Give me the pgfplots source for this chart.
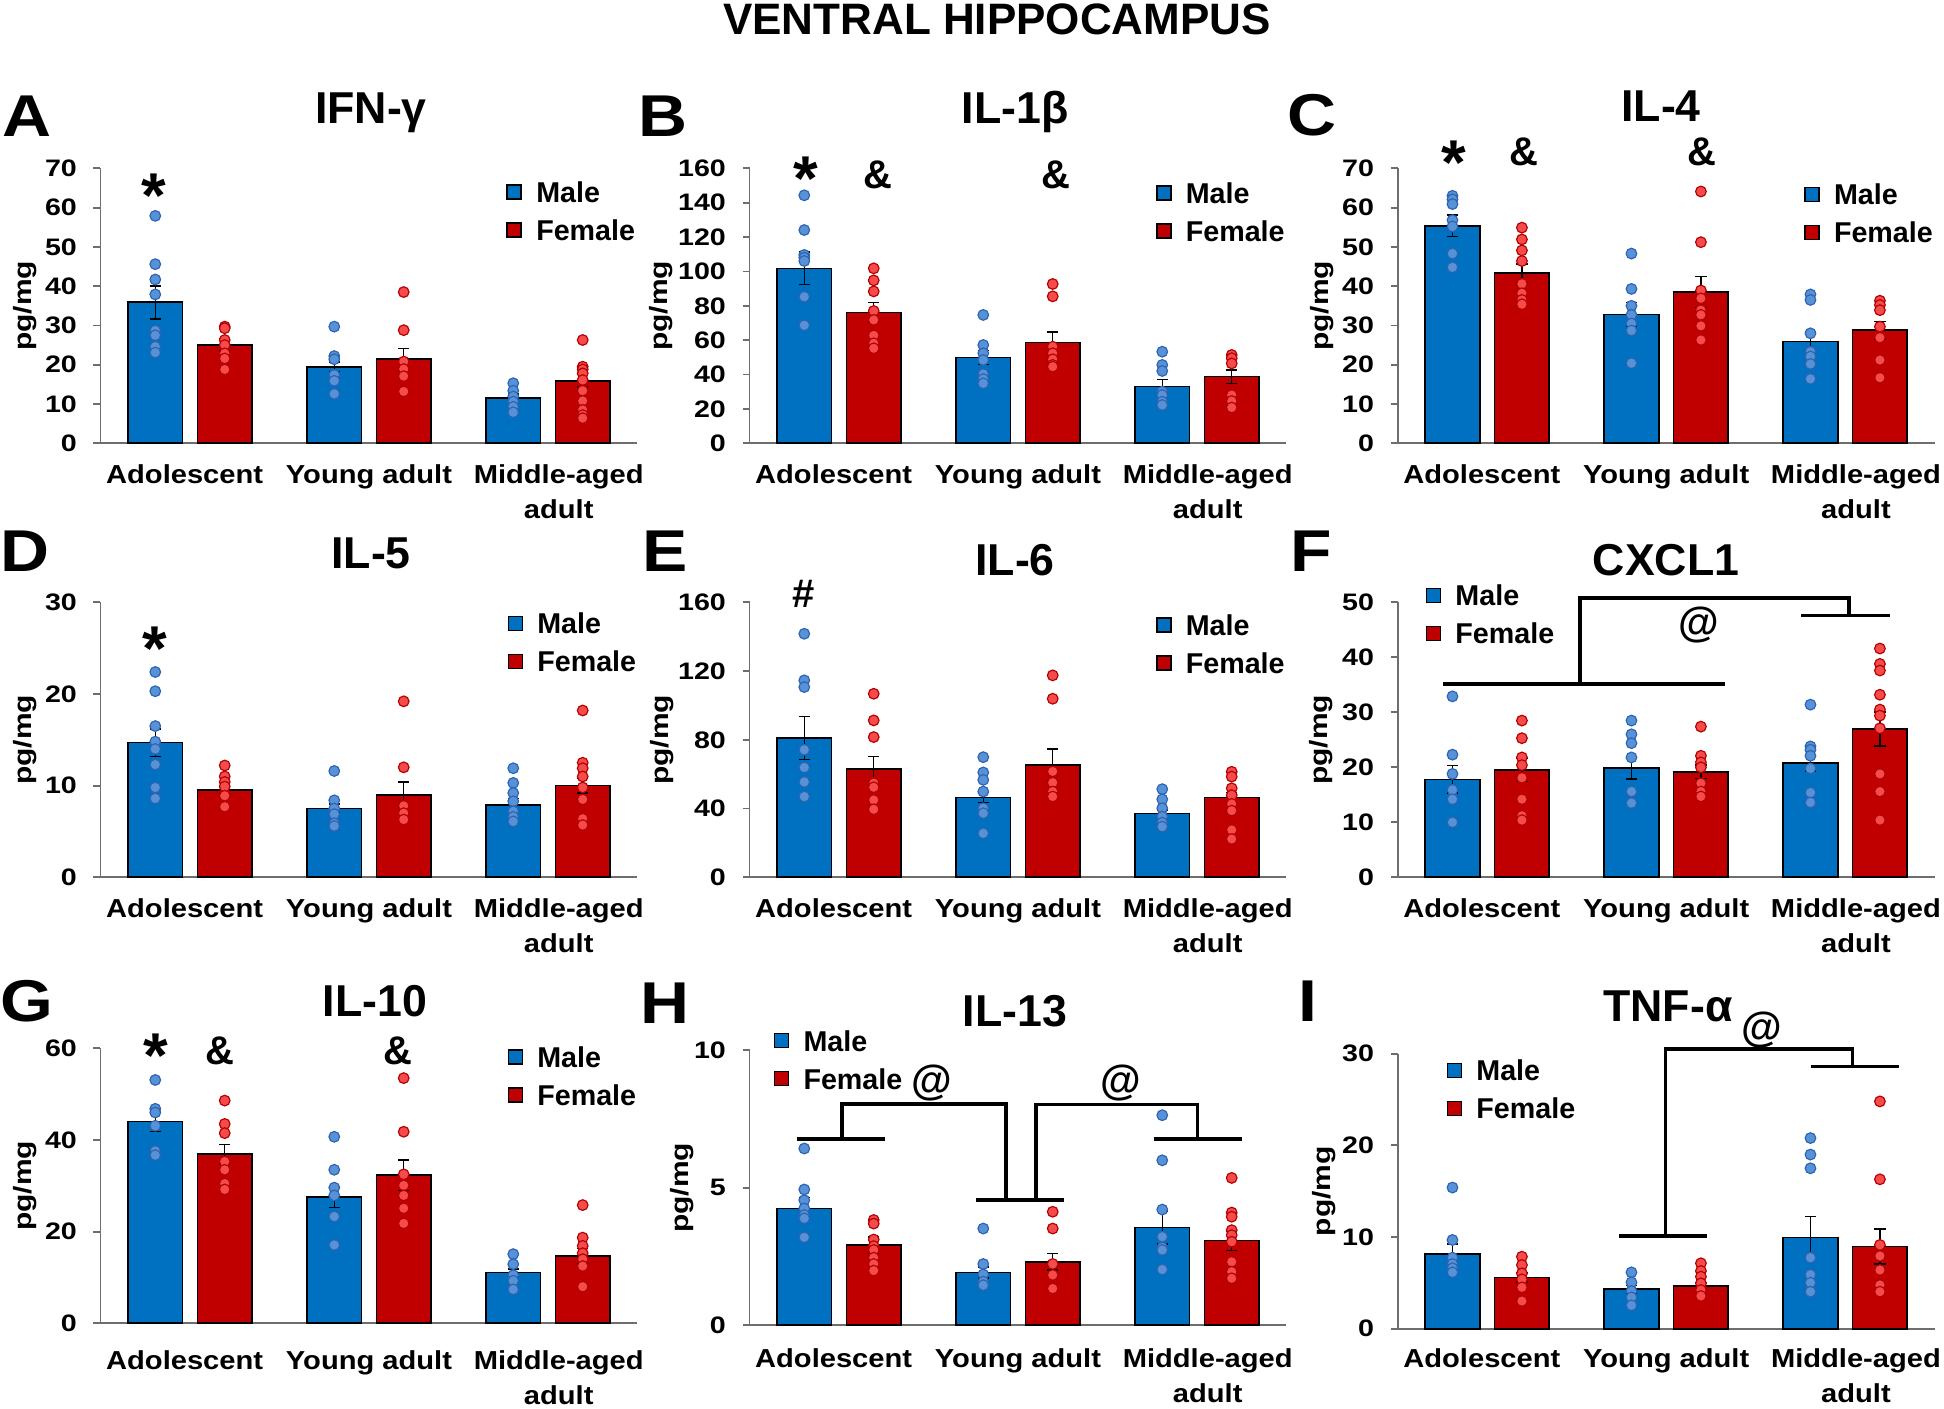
\documentclass[border=0pt]{standalone}
\usepackage{fontspec}
\setmainfont{Liberation Sans}
\newfontfamily\wfont[FakeStretch=1.2]{Liberation Sans}
\newfontfamily\cfont[FakeStretch=1.12]{Liberation Sans}
\newfontfamily\lfont[FakeStretch=1.15]{Liberation Sans}
\usepackage{pgfplots}
\pgfplotsset{compat=1.18}
\definecolor{barblue}{RGB}{0,112,192}
\definecolor{barred}{RGB}{192,0,0}
\definecolor{dotblue}{RGB}{88,146,214}
\definecolor{dotblueedge}{RGB}{45,100,178}
\definecolor{dotred}{RGB}{245,75,75}
\definecolor{dotrededge}{RGB}{180,0,0}
\definecolor{axgray}{RGB}{110,110,110}
\tikzset{
  star/.style={font=\fontsize{19}{19}\selectfont\bfseries, inner sep=0pt, anchor=north},
  sym/.style={font=\fontsize{12}{12}\selectfont\bfseries, inner sep=0pt, anchor=base},
  atsym/.style={font=\fontsize{12.5}{12.5}\selectfont\bfseries, inner sep=0pt, anchor=center},
  brk/.style={line width=1.1pt, black, line join=miter},
  plet/.style={font=\lfont\fontsize{17.7}{18}\selectfont\bfseries, inner sep=0pt, anchor=base west},
  ptit/.style={font=\fontsize{13.4}{14}\selectfont\bfseries, inner sep=0pt, anchor=base},
}
\pgfplotsset{
  panel/.style={
    scale only axis, width=161.1pt, height=82.5pt, anchor=south west,
    xmin=-0.5, xmax=2.5, ymin=0, clip=false,
    axis lines*=left, axis line style={draw=axgray, line width=0.55pt, -},
    xtick={-0.03,1,2.06}, xticklabels={Adolescent,Young adult,{Middle-aged\\adult}},
    x tick style={draw=none},
    y tick style={draw=axgray, line width=0.55pt},
    tick align=outside, major tick length=2.1pt,
    xticklabel style={font=\cfont\fontsize{7.8}{10.5}\selectfont\bfseries, align=center, anchor=north, inner sep=0pt, yshift=-4.2pt},
    yticklabel style={font=\wfont\fontsize{7.15}{8}\selectfont\bfseries, anchor=east, inner sep=0pt, xshift=-4.8pt},
    /pgf/number format/assume math mode=true,
    ylabel={pg/mg},
    every axis y label/.style={at={(axis description cs:-0.14,0.5)}, rotate=90, anchor=center, font=\wfont\fontsize{7.5}{9}\selectfont\bfseries},
    legend style={draw=none, fill=none, inner sep=0pt, outer sep=0pt, anchor=west,
      font=\fontsize{8.6}{9}\selectfont\bfseries, row sep=4.2pt, column sep=3.8pt,
      nodes={inner sep=0.5pt, text height=6.2pt, text depth=0pt}, cells={anchor=west}},
  },
  barM/.style={ybar, bar width=0.305, bar shift=0pt, fill=barblue, draw=black, line width=0.5pt,
    error bars/.cd, y dir=both, y explicit,
    error bar style={black, line width=0.45pt},
    error mark options={rotate=90, mark size=1.7pt, black, line width=0.45pt},
    /pgfplots/.cd,
    legend image code/.code={\draw[##1, draw=black, line width=0.45pt] (0pt,-2.1pt) rectangle (4.2pt,2.1pt);}},
  barF/.style={barM, fill=barred},
  dotM/.style={only marks, mark=*, mark size=1.6pt, mark options={fill=dotblue, draw=dotblueedge, line width=0.35pt, solid}, forget plot},
  dotF/.style={only marks, mark=*, mark size=1.6pt, mark options={fill=dotred, draw=dotrededge, line width=0.35pt, solid}, forget plot},
}
\begin{document}
\begin{tikzpicture}
\begin{scope}[x=0.3pt,y=-0.3pt]
\coordinate (A0) at (100.5,443.3);
\coordinate (B0) at (749.5,443.3);
\coordinate (C0) at (1397.7,443.3);
\coordinate (D0) at (100.5,877.3);
\coordinate (E0) at (749.5,877.3);
\coordinate (F0) at (1397.7,877.3);
\coordinate (G0) at (100.5,1323.3);
\coordinate (H0) at (749.5,1325.3);
\coordinate (I0) at (1397.7,1328.7);
\end{scope}

% ---------------- A: IFN-gamma
\begin{axis}[panel, at={(A0)}, ymax=70, ytick={0,10,...,70},
  legend style={at={(axis description cs:0.756,0.845)}}]
\addplot[barM] coordinates {(-0.194,35.9) +- (0,4.2) (0.806,19.5) +- (0,1.2) (1.806,11.5) +- (0,1.0)};
\addlegendentry{Male}
\addplot[barF] coordinates {(0.194,25.0) +- (0,1.5) (1.194,21.4) +- (0,2.7) (2.194,15.9) +- (0,1.6)};
\addlegendentry{Female}
\addplot[dotM] coordinates {(-0.194,57.9) (-0.194,45.6) (-0.194,41.7) (-0.194,37.9) (-0.194,28.7) (-0.194,27.5) (-0.194,24.6) (-0.194,23.1)
 (0.806,29.7) (0.806,22.2) (0.806,21.4) (0.806,17.4) (0.806,15.9) (0.806,12.6)
 (1.806,15.3) (1.806,13.4) (1.806,11.9) (1.806,10.6) (1.806,9.3) (1.806,7.9)};
\addplot[dotF] coordinates {(0.194,29.7) (0.194,29.3) (0.194,26.3) (0.194,25.0) (0.194,22.9) (0.194,21.6) (0.194,18.8)
 (1.194,38.5) (1.194,28.8) (1.194,20.8) (1.194,18.9) (1.194,17.1) (1.194,13.2)
 (2.194,26.3) (2.194,19.5) (2.194,18.8) (2.194,17.8) (2.194,16.1) (2.194,13.4) (2.194,10.8) (2.194,8.5) (2.194,7.2) (2.194,6.4)};
\node[star] at (axis cs:-0.2,68.7) {*};
\end{axis}

% ---------------- B: IL-1beta
\begin{axis}[panel, at={(B0)}, ymax=160, ytick={0,20,...,160},
  ylabel style={at={(axis description cs:-0.164,0.5)}},
  legend style={at={(axis description cs:0.757,0.842)}}]
\addplot[barM] coordinates {(-0.194,101.8) +- (0,9.5) (0.806,50.0) +- (0,4.0) (1.806,33.0) +- (0,4.2)};
\addlegendentry{Male}
\addplot[barF] coordinates {(0.194,76.2) +- (0,5.6) (1.194,58.6) +- (0,6.2) (2.194,38.8) +- (0,4.0)};
\addlegendentry{Female}
\addplot[dotM] coordinates {(-0.194,144.3) (-0.194,124.1) (-0.194,109.6) (-0.194,108) (-0.194,106.1) (-0.194,85.3) (-0.194,68.7)
 (0.806,74.7) (0.806,57.2) (0.806,52.4) (0.806,48.5) (0.806,40.3) (0.806,37.4) (0.806,34.9)
 (1.806,53.3) (1.806,45.6) (1.806,42.1) (1.806,30.1) (1.806,28.1) (1.806,24.2) (1.806,22.3)};
\addplot[dotF] coordinates {(0.194,101.8) (0.194,94.8) (0.194,88.4) (0.194,77) (0.194,71.8) (0.194,62.8) (0.194,58.2) (0.194,55.3)
 (1.194,92.7) (1.194,85.5) (1.194,56.2) (1.194,52.4) (1.194,48.9) (1.194,45.6) (1.194,44.6)
 (2.194,51.4) (2.194,49.5) (2.194,46.5) (2.194,28.1) (2.194,24.6) (2.194,20.8)};
\node[star] at (axis cs:-0.188,166.8) {*};
\node[sym] at (axis cs:0.218,148.4) {\&};
\node[sym] at (axis cs:1.212,148.4) {\&};
\end{axis}

% ---------------- C: IL-4
\begin{axis}[panel, at={(C0)}, ymax=70, ytick={0,10,...,70},
  ylabel style={at={(axis description cs:-0.14,0.5)}},
  legend style={at={(axis description cs:0.757,0.836)}}]
\addplot[barM] coordinates {(-0.194,55.4) +- (0,2.7) (0.806,32.8) +- (0,3.0) (1.806,25.9) +- (0,2.5)};
\addlegendentry{Male}
\addplot[barF] coordinates {(0.194,43.3) +- (0,2.4) (1.194,38.5) +- (0,3.9) (2.194,28.8) +- (0,2.2)};
\addlegendentry{Female}
\addplot[dotM] coordinates {(-0.194,63.0) (-0.194,62.1) (-0.194,60.9) (-0.194,56.8) (-0.194,55.2) (-0.194,48.3) (-0.194,44.8)
 (0.806,48.3) (0.806,39.3) (0.806,35.0) (0.806,32.7) (0.806,30.5) (0.806,28.7) (0.806,20.4)
 (1.806,37.9) (1.806,36.5) (1.806,28.0) (1.806,23.3) (1.806,22.1) (1.806,20.2) (1.806,16.4)};
\addplot[dotF] coordinates {(0.194,54.9) (0.194,51.9) (0.194,49.1) (0.194,46.4) (0.194,40.6) (0.194,38.2) (0.194,36.5) (0.194,35.4)
 (1.194,64.1) (1.194,51.2) (1.194,38.9) (1.194,36.9) (1.194,33.9) (1.194,32.7) (1.194,29.9) (1.194,26.3)
 (2.194,36.3) (2.194,35.2) (2.194,33.9) (2.194,29.7) (2.194,26.9) (2.194,21.2) (2.194,16.7)};
\node[star] at (axis cs:-0.187,77.2) {*};
\node[sym] at (axis cs:0.208,70.6) {\&};
\node[sym] at (axis cs:1.201,70.6) {\&};
\end{axis}

% ---------------- D: IL-5
\begin{axis}[panel, at={(D0)}, ymax=30, ytick={0,10,20,30},
  legend style={at={(axis description cs:0.758,0.854)}}]
\addplot[barM] coordinates {(-0.194,14.7) +- (0,1.5) (0.806,7.5) +- (0,0.5) (1.806,7.9) +- (0,0.7)};
\addlegendentry{Male}
\addplot[barF] coordinates {(0.194,9.5) +- (0,0.5) (1.194,9.0) +- (0,1.4) (2.194,10.0) +- (0,0.8)};
\addlegendentry{Female}
\addplot[dotM] coordinates {(-0.194,22.4) (-0.194,20.3) (-0.194,16.5) (-0.194,14.8) (-0.194,14.0) (-0.194,12.3) (-0.194,9.8) (-0.194,8.6)
 (0.806,11.6) (0.806,8.4) (0.806,7.5) (0.806,6.9) (0.806,5.9) (0.806,5.6)
 (1.806,11.9) (1.806,10.3) (1.806,9.2) (1.806,8.3) (1.806,7.2) (1.806,6.6) (1.806,6.1)};
\addplot[dotF] coordinates {(0.194,12.2) (0.194,11.0) (0.194,10.4) (0.194,9.9) (0.194,8.9) (0.194,7.7)
 (1.194,19.2) (1.194,12.0) (1.194,7.8) (1.194,7.0) (1.194,6.3)
 (2.194,18.2) (2.194,12.5) (2.194,11.9) (2.194,11.0) (2.194,9.8) (2.194,8.5) (2.194,6.4) (2.194,5.7)};
\node[star] at (axis cs:-0.199,27.4) {*};
\end{axis}

% ---------------- E: IL-6
\begin{axis}[panel, at={(E0)}, ymax=160, ytick={0,40,...,160},
  ylabel style={at={(axis description cs:-0.162,0.5)}},
  legend style={at={(axis description cs:0.757,0.848)}}]
\addplot[barM] coordinates {(-0.194,81.0) +- (0,12.5) (0.806,46.4) +- (0,3.0) (1.806,37.1) +- (0,2.0)};
\addlegendentry{Male}
\addplot[barF] coordinates {(0.194,62.9) +- (0,7.4) (1.194,65.4) +- (0,9.2) (2.194,46.4) +- (0,3.0)};
\addlegendentry{Female}
\addplot[dotM] coordinates {(-0.194,141.7) (-0.194,114.6) (-0.194,110.7) (-0.194,74.2) (-0.194,63.9) (-0.194,55.5) (-0.194,47.0)
 (0.806,69.9) (0.806,61.0) (0.806,56.7) (0.806,49.9) (0.806,40.2) (0.806,37.3) (0.806,25.6)
 (1.806,51.3) (1.806,45.4) (1.806,40.2) (1.806,35.3) (1.806,31.8) (1.806,29.5)};
\addplot[dotF] coordinates {(0.194,106.8) (0.194,91.3) (0.194,81.6) (0.194,54.8) (0.194,52.4) (0.194,45.0) (0.194,39.6)
 (1.194,117.5) (1.194,103.9) (1.194,61.6) (1.194,55.1) (1.194,49.9) (1.194,47.0)
 (2.194,61.4) (2.194,58.6) (2.194,51.8) (2.194,47.8) (2.194,42.7) (2.194,38.8) (2.194,27.6) (2.194,22.3)};
\node[sym] at (axis cs:-0.2,156.7) {\#};
\end{axis}

% ---------------- F: CXCL1
\begin{axis}[panel, at={(F0)}, ymax=50, ytick={0,10,...,50},
  ylabel style={at={(axis description cs:-0.142,0.5)}},
  legend style={at={(axis description cs:0.052,0.956)}}]
\addplot[barM] coordinates {(-0.194,17.8) +- (0,2.5) (0.806,19.9) +- (0,2.0) (1.806,20.8) +- (0,1.5)};
\addlegendentry{Male}
\addplot[barF] coordinates {(0.194,19.5) +- (0,2.1) (1.194,19.2) +- (0,1.2) (2.194,27.0) +- (0,3.1)};
\addlegendentry{Female}
\addplot[dotM] coordinates {(-0.194,32.9) (-0.194,22.3) (-0.194,18.8) (-0.194,15.9) (-0.194,14.2) (-0.194,10.0)
 (0.806,28.5) (0.806,26.0) (0.806,24.4) (0.806,21.8) (0.806,15.6) (0.806,13.5)
 (1.806,31.4) (1.806,23.8) (1.806,23.2) (1.806,22.1) (1.806,19.8) (1.806,15.4) (1.806,13.6)};
\addplot[dotF] coordinates {(0.194,28.5) (0.194,25.3) (0.194,21.8) (0.194,20.4) (0.194,18.1) (0.194,14.2) (0.194,11.2) (0.194,10.4)
 (1.194,27.4) (1.194,22.1) (1.194,20.9) (1.194,20.0) (1.194,17.1) (1.194,15.6) (1.194,14.7)
 (2.194,41.6) (2.194,38.8) (2.194,37.6) (2.194,33.2) (2.194,30.5) (2.194,29.4) (2.194,27.1) (2.194,18.8) (2.194,15.6) (2.194,10.4)};
\draw[brk] (axis cs:-0.245,35.2) -- (axis cs:1.33,35.2);
\draw[brk] (axis cs:0.518,35.2) -- (axis cs:0.518,50.8) -- (axis cs:2.023,50.8) -- (axis cs:2.023,47.6);
\draw[brk] (axis cs:1.754,47.6) -- (axis cs:2.249,47.6);
\node[atsym] at (axis cs:1.183,45.9) {@};
\end{axis}

% ---------------- G: IL-10
\begin{axis}[panel, at={(G0)}, ymax=60, ytick={0,20,40,60},
  xticklabel style={yshift=-1.8pt},
  ylabel style={at={(axis description cs:-0.14,0.5)}},
  legend style={at={(axis description cs:0.758,0.899)}}]
\addplot[barM] coordinates {(-0.194,44.0) +- (0,2.2) (0.806,27.6) +- (0,2.3) (1.806,11.1) +- (0,0.8)};
\addlegendentry{Male}
\addplot[barF] coordinates {(0.194,36.9) +- (0,2.1) (1.194,32.3) +- (0,3.3) (2.194,14.7) +- (0,1.6)};
\addlegendentry{Female}
\addplot[dotM] coordinates {(-0.194,53.1) (-0.194,46.8) (-0.194,46.0) (-0.194,43.1) (-0.194,37.6) (-0.194,36.7)
 (0.806,40.7) (0.806,33.5) (0.806,29.6) (0.806,27.9) (0.806,23.3) (0.806,17.1)
 (1.806,15.1) (1.806,12.9) (1.806,10.5) (1.806,9.3) (1.806,7.4)};
\addplot[dotF] coordinates {(0.194,48.6) (0.194,43.5) (0.194,41.5) (0.194,35.3) (0.194,33.5) (0.194,30.5) (0.194,29.2)
 (1.194,53.5) (1.194,41.8) (1.194,32.5) (1.194,30.1) (1.194,27.9) (1.194,25.1) (1.194,21.8)
 (2.194,25.8) (2.194,18.7) (2.194,16.9) (2.194,15.3) (2.194,14.0) (2.194,12.5) (2.194,8.0)};
\node[star] at (axis cs:-0.191,63.3) {*};
\node[sym] at (axis cs:0.17,56.4) {\&};
\node[sym] at (axis cs:1.16,56.4) {\&};
\end{axis}

% ---------------- H: IL-13
\begin{axis}[panel, at={(H0)}, ymax=10, ytick={0,5,10},
  xticklabel style={yshift=-0.4pt},
  ylabel style={at={(axis description cs:-0.125,0.5)}},
  legend style={at={(axis description cs:0.045,0.966)}}]
\addplot[barM] coordinates {(-0.194,4.25) +- (0,0.4) (0.806,1.92) +- (0,0.2) (1.806,3.56) +- (0,0.6)};
\addlegendentry{Male}
\addplot[barF] coordinates {(0.194,2.92) +- (0,0.3) (1.194,2.31) +- (0,0.3) (2.194,3.08) +- (0,0.35)};
\addlegendentry{Female}
\addplot[dotM] coordinates {(-0.194,6.43) (-0.194,4.94) (-0.194,4.55) (-0.194,4.25) (-0.194,4.01) (-0.194,3.89) (-0.194,3.20)
 (0.806,3.52) (0.806,2.23) (0.806,1.85) (0.806,1.59) (0.806,1.46)
 (1.806,7.64) (1.806,6.00) (1.806,4.21) (1.806,3.22) (1.806,2.83) (1.806,2.74) (1.806,2.03)};
\addplot[dotF] coordinates {(0.194,3.83) (0.194,3.70) (0.194,3.12) (0.194,2.88) (0.194,2.74) (0.194,2.46) (0.194,2.23) (0.194,1.99)
 (1.194,4.13) (1.194,3.52) (1.194,2.23) (1.194,1.83) (1.194,1.34)
 (2.194,5.36) (2.194,4.10) (2.194,3.95) (2.194,3.46) (2.194,3.28) (2.194,3.04) (2.194,2.31) (2.194,1.95) (2.194,1.71)};
\draw[brk] (axis cs:-0.237,6.77) -- (axis cs:0.257,6.77);
\draw[brk] (axis cs:0.018,6.77) -- (axis cs:0.018,8.06) -- (axis cs:0.934,8.06) -- (axis cs:0.934,4.55);
\draw[brk] (axis cs:0.768,4.55) -- (axis cs:1.255,4.55);
\draw[brk] (axis cs:1.102,4.55) -- (axis cs:1.102,8.03) -- (axis cs:2.003,8.03) -- (axis cs:2.003,6.77);
\draw[brk] (axis cs:1.759,6.77) -- (axis cs:2.251,6.77);
\node[atsym] at (axis cs:0.517,8.8) {@};
\node[atsym] at (axis cs:1.573,8.8) {@};
\end{axis}

% ---------------- I: TNF-alpha
\begin{axis}[panel, at={(I0)}, ymax=30, ytick={0,10,20,30},
  xticklabel style={yshift=0.5pt},
  ylabel style={at={(axis description cs:-0.137,0.5)}},
  legend style={at={(axis description cs:0.091,0.870)}}]
\addplot[barM] coordinates {(-0.194,8.15) +- (0,1.1) (0.806,4.3) +- (0,0.4) (1.806,9.97) +- (0,2.3)};
\addlegendentry{Male}
\addplot[barF] coordinates {(0.194,5.6) +- (0,0.5) (1.194,4.66) +- (0,0.4) (2.194,8.96) +- (0,1.9)};
\addlegendentry{Female}
\addplot[dotM] coordinates {(-0.194,15.4) (-0.194,9.68) (-0.194,7.75) (-0.194,7.06) (-0.194,6.6) (-0.194,6.15)
 (0.806,6.15) (0.806,5.06) (0.806,4.11) (0.806,3.42) (0.806,2.55)
 (1.806,20.8) (1.806,19.0) (1.806,17.5) (1.806,7.75) (1.806,5.9) (1.806,5.02) (1.806,4.04)};
\addplot[dotF] coordinates {(0.194,7.86) (0.194,6.95) (0.194,6.04) (0.194,5.39) (0.194,4.51) (0.194,3.02)
 (1.194,7.14) (1.194,6.3) (1.194,5.68) (1.194,4.95) (1.194,4.22) (1.194,3.57)
 (2.194,24.8) (2.194,16.3) (2.194,9.14) (2.194,7.94) (2.194,6.4) (2.194,4.77) (2.194,4.04)};
\draw[brk] (axis cs:0.735,10.1) -- (axis cs:1.229,10.1);
\draw[brk] (axis cs:0.996,10.1) -- (axis cs:0.996,30.5) -- (axis cs:2.041,30.5) -- (axis cs:2.041,28.6);
\draw[brk] (axis cs:1.808,28.6) -- (axis cs:2.298,28.6);
\node[atsym] at (axis cs:1.533,32.6) {@};
\end{axis}

% ---------------- titles and letters
\begin{scope}[x=0.3pt,y=-0.3pt]
\node[font=\fontsize{13.2}{14}\selectfont\bfseries, inner sep=0pt, anchor=base] at (997,34.7) {VENTRAL HIPPOCAMPUS};
\node[plet] at (2,136.7) {A};
\node[plet] at (638,136.7) {B};
\node[plet] at (1287,135) {C};
\node[plet] at (0,571.7) {D};
\node[plet] at (642,571.7) {E};
\node[plet] at (1290,571.7) {F};
\node[plet] at (0,1021.7) {G};
\node[plet] at (640,1023.3) {H};
\node[plet] at (1298,1021.7) {I};
\node[ptit] at (371,123.3) {IFN-γ};
\node[ptit] at (1015,123.3) {IL-1β};
\node[ptit] at (1661,121.7) {IL-4};
\node[ptit] at (371,568.3) {IL-5};
\node[ptit] at (1015,575) {IL-6};
\node[ptit] at (1666,575) {CXCL1};
\node[ptit] at (375,1016.7) {IL-10};
\node[ptit] at (1015,1026.7) {IL-13};
\node[ptit] at (1668,1021.7) {TNF-α};
\pgfresetboundingbox
\useasboundingbox (0,0) rectangle (1944,1408);
\end{scope}
\end{tikzpicture}
\end{document}
